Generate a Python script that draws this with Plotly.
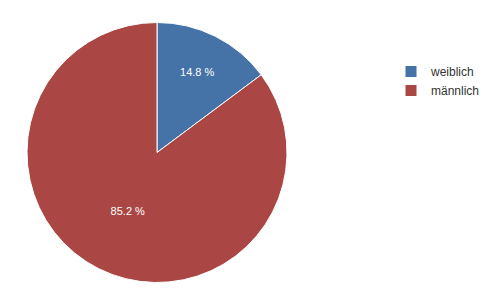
import plotly.graph_objects as go

labels = ["weiblich", "männlich"]
values = [14.8, 85.2]
colors = ["#4572A7", "#AA4643"]

W, H = 498, 303
fig = go.Figure(go.Pie(
    labels=labels,
    values=values,
    sort=False,
    direction="clockwise",
    rotation=0,
    marker=dict(colors=colors, line=dict(color="white", width=1)),
    texttemplate="%{value:.1f} %",
    textposition="inside",
    insidetextorientation="horizontal",
    textfont=dict(family="Arial, Liberation Sans", size=11, color="white"),
    hoverinfo="label+percent",
    domain=dict(x=[27 / W, 287 / W], y=[(H - 283) / H, (H - 22) / H]),
))
fig.update_layout(
    width=W, height=H,
    margin=dict(l=0, r=0, t=0, b=0),
    paper_bgcolor="white",
    showlegend=True,
    legend=dict(
        x=391 / W, y=(H - 57) / H, xanchor="left", yanchor="top",
        font=dict(family="Arial, Liberation Sans", size=12, color="#333333"),
        bgcolor="rgba(0,0,0,0)",
    ),
)
fig.write_html("out.html")
